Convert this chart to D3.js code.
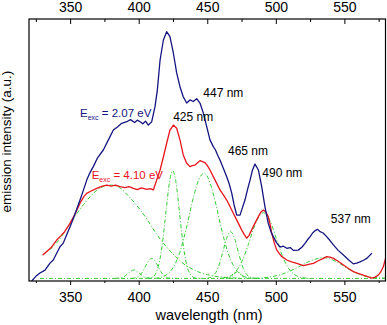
<!DOCTYPE html>
<html>
<head>
<meta charset="utf-8">
<script src="https://cdn.jsdelivr.net/npm/d3@7"></script>
<style>
  body { margin: 0; background: #fff; }
  svg { display: block; }
</style>
</head>
<body>
<div id="chart"></div>
<script>
// emission spectra (wavelength in nm, intensity in a.u.)
var blueWl = [322,325,328,331.7,335.3,337.7,340,342.6,345,348,351.1,354,357.2,360,362.1,364.5,366.9,370,374.2,378,381.5,384.5,387.6,391.3,394,397,399,401,403,405,407,409.5,411.9,413.6,415.6,418,420.4,422.8,425.3,427.7,430.1,432.5,435,437.4,439.8,442.3,444.7,447.1,449.6,452,454.4,456,458.1,459.3,461.5,464.2,466,467.9,469.5,471.5,473.9,475.5,477.5,479.5,481.2,483,484.8,487.3,489.7,492.1,494.5,496.5,498.2,500.5,503.1,505.5,508,510.5,512.8,516.4,519,521.3,523,525,527,528.6,530.5,532.3,534.5,537.1,539.5,542,545.5,549.3,553,556.5,559,561.4,564,566.3,568,570];
var blueVal = [-1,0.8,2.1,3.2,5.9,7.1,9.5,12.2,13.6,17.5,21.4,25.5,30.2,34.5,37.9,40.8,43.1,46.5,49.5,53.5,57.2,58.4,59.8,60.4,61.2,60.1,61,60.4,59.6,60.6,59.1,60.4,66.2,72.6,84.2,91.9,95.1,93.2,86.8,79.2,73.9,70,67.6,68.8,68.2,69.3,67.6,63.8,58.5,53.4,50.8,49.5,46.9,45.6,42.8,39.2,36.5,32.8,28.5,24.4,24.4,27,30.2,34.5,37.9,41.8,44.1,41.8,35.4,27.6,21.2,18,16.1,13.8,12.1,12.4,11.6,11.9,10.8,10.9,12,13.5,14.8,16.1,17.6,18.4,18.9,18,17.5,16.1,14.6,12.9,10.8,9,7.2,5.6,5.9,6.4,7,7.7,8.6,9.7];

var redWl = [330,333,336,340.2,343,346,349.9,353,357.2,360,362.1,365,369.4,373,376.7,380,383,386.4,390,393,396.1,399,402,405.9,408.5,410.7,413.1,415.6,418,420.4,422.8,425.3,427.7,430.1,432.5,435,437.4,439,441.1,443,444.7,446.5,448.4,450,452,455.7,459.3,462,464.2,466.5,469,472,475.1,477,478.8,480.5,482.4,485,487.3,489,490.9,492.7,494.5,496,497,499,500.7,504,508,511.5,515.3,520.1,524,527.4,531,534.7,537.1,539.5,542,545.5,549.3,553,556.5,560,563.8,567,570,572.5,574.8,576.5,578.4,580.4,582];
var redVal = [9,10.4,11.8,14.8,16.3,18,21.2,24.2,29,31.5,32.8,33.6,34.7,35.5,36,35.6,36,35.4,35,35.4,34.7,34.2,34.9,34.3,34.6,34.1,37.9,41.8,46.8,52.1,57.2,59.1,57.9,53.4,47.6,44.4,43.1,43.5,43.7,44.6,45.4,45,44.6,43.6,41.8,37.9,34.1,32,30.2,27.8,25.1,22,18.7,16.9,15.5,16.6,18.7,21.5,23.8,25.5,26.4,25.6,23.8,20.5,17.4,13.5,10.9,8.6,7.1,6.4,5.8,4.9,5.4,5.8,6.8,7.7,8.4,8.2,7.7,6.6,5.2,3.8,2.6,1.9,1.3,0.7,0.1,0.5,1.3,2.5,4.5,8.4,13];

// fitted components (green), [wavelength, intensity]
var fit380 = [[330,9],[340,13.6],[350,21.1],[360,28.6],[370,34.2],[379,36],[386,35],[393,31.5],[400,27.2],[405,23.6],[410,19.5],[415,15.6],[420,12.3],[425,9.4],[430,6.8],[435,4.8],[440,3.4],[445,2.2],[450,1.45],[455,0.9],[460,0.55],[468,0.2],[475,0.1]];
var fit397 = [[383,0],[386,0.1],[389,0.57],[392.5,2],[396.5,3.3],[400.5,2],[404,0.57],[407,0.1],[410,0]];
var fit410 = [[395,0],[397,0.1],[400,0.83],[403,2.7],[406,5.7],[409.5,7.7],[413,5.7],[416,2.7],[419,0.83],[422,0.15],[426,0]];
var fit425 = [[405,0],[410,0.5],[414,4],[417,12.3],[420,26.2],[422.5,37.3],[424.8,41.5],[427,37.7],[429.5,26.7],[432,14.7],[435,5.2],[438,1.3],[441,0.2],[446,0]];
var fit447 = [[412,0],[420,1.3],[425,4.1],[430,10.1],[435,19.9],[440,31.4],[444,38.3],[447.5,40.5],[451,38.3],[455,31.4],[460,19.9],[465,10.1],[470,4.1],[475,1.3],[481,0.2],[486,0]];
var fit467 = [[450,0],[455,1.4],[458,4.2],[461,9.5],[464,15.3],[467,18],[470,15.3],[473,9.5],[476,4.2],[479,1.4],[483,0.2],[486,0]];
var fit472 = [[464,0],[466,0.1],[469,1.3],[471,2.4],[472,2.6],[473,2.4],[475,1.3],[478,0.1],[480,0]];
var fit491 = [[460,0],[465,0.5],[470,2.2],[475,6.2],[480,13.1],[485,20.9],[490.9,25.3],[496,21.9],[501,14.4],[506,7.1],[511,2.7],[516,0.8],[522,0.1],[526,0]];
var fit537 = [[485,0],[495,0.5],[505,1.7],[515,4],[525,6.7],[535,8],[545,6.2],[555,3],[565,0.9],[575,0.2],[580,0.1]];
var fitBase = [[328,0],[580,0]];

var topTicks = [350,400,450,500,550];
var minorTicks = [325,375,425,475,525,575];

var peakLabels = [
  {t:"447 nm", wl:447.5, v:70},
  {t:"425 nm", wl:425.5, v:60.5},
  {t:"465 nm", wl:465.5, v:47.5},
  {t:"490 nm", wl:490.5, v:39.2},
  {t:"537 nm", wl:540.5, v:21.5}
];

var W = 387, H = 325;
var font = "'Liberation Sans', Arial, sans-serif";

var svg = d3.select("#chart")
  .append("svg")
  .attr("width", W)
  .attr("height", H);

var x = d3.scaleLinear().domain([320, 580]).range([29, 385.5]);
var y = d3.scaleLinear().domain([-1, 100]).range([281, 19]);

svg.append("defs").append("clipPath")
  .attr("id", "plotclip")
  .append("rect")
  .attr("x", 29).attr("y", 19)
  .attr("width", 356.5).attr("height", 262);

var plot = svg.append("g").attr("clip-path", "url(#plotclip)");

var line = d3.line()
  .x(function(d) { return x(d[0]); })
  .y(function(d) { return y(d[1]); });

var smooth = d3.line()
  .x(function(d) { return x(d[0]); })
  .y(function(d) { return y(d[1]); })
  .curve(d3.curveMonotoneX);

// green fits
var fits = [fitBase, fit380, fit397, fit410, fit425, fit447, fit467, fit472, fit491, fit537];
for (var i = 0; i < fits.length; i++) {
  plot.append("path")
    .attr("d", smooth(fits[i]))
    .attr("fill", "none")
    .attr("stroke", "#33cc33")
    .attr("stroke-width", 1)
    .attr("stroke-dasharray", "4,2,1,2");
}

var blue = d3.zip(blueWl, blueVal);
var red = d3.zip(redWl, redVal);

plot.append("path")
  .attr("d", line(red))
  .attr("fill", "none")
  .attr("stroke", "#e8141c")
  .attr("stroke-width", 1.3)
  .attr("stroke-linejoin", "round");

plot.append("path")
  .attr("d", line(blue))
  .attr("fill", "none")
  .attr("stroke", "#141482")
  .attr("stroke-width", 1.3)
  .attr("stroke-linejoin", "round");

// axes
var bottomAxis = d3.axisBottom(x).tickValues(topTicks).tickSize(4).tickPadding(7);
var bottomMinor = d3.axisBottom(x).tickValues(minorTicks).tickSize(2).tickFormat("");
var topAxis = d3.axisTop(x).tickValues(topTicks).tickSize(-5).tickPadding(7);
var topMinor = d3.axisTop(x).tickValues(minorTicks).tickSize(-3).tickFormat("");

var axes = [
  [bottomAxis, 281], [bottomMinor, 281], [topAxis, 19], [topMinor, 19]
];
axes.forEach(function(a) {
  var g = svg.append("g")
    .attr("transform", "translate(0," + a[1] + ")")
    .call(a[0]);
  g.select(".domain").remove();
  g.selectAll("line").attr("stroke", "#000").attr("stroke-width", 1);
  g.selectAll("text")
    .attr("font-family", font)
    .attr("font-size", "14px")
    .attr("fill", "#000");
});

svg.append("rect")
  .attr("x", 29).attr("y", 19)
  .attr("width", 356.5).attr("height", 262)
  .attr("fill", "none")
  .attr("stroke", "#000")
  .attr("stroke-width", 1.2);

svg.append("text")
  .attr("x", 209)
  .attr("y", 320)
  .attr("text-anchor", "middle")
  .attr("font-family", font)
  .attr("font-size", "14.5px")
  .text("wavelength (nm)");

svg.append("text")
  .attr("transform", "translate(11,141.7) rotate(-90)")
  .attr("text-anchor", "middle")
  .attr("font-family", font)
  .attr("font-size", "13.5px")
  .text("emission intensity (a.u.)");

// excitation labels
function excLabel(xp, yp, col, val) {
  var t = svg.append("text")
    .attr("x", xp).attr("y", yp)
    .attr("font-family", font)
    .attr("font-size", "11.5px")
    .attr("fill", col);
  t.append("tspan").text("E");
  t.append("tspan").attr("font-size", "7px").attr("dy", 3).text("exc");
  t.append("tspan").attr("dy", -3).text(" = " + val + " eV");
}
excLabel(80, 116.5, "#141482", "2.07");
excLabel(91.7, 179.3, "#e8141c", "4.10");

peakLabels.forEach(function(p) {
  svg.append("text")
    .attr("x", x(p.wl) - 0.5)
    .attr("y", y(p.v))
    .attr("font-family", font)
    .attr("font-size", "12px")
    .attr("fill", "#000")
    .text(p.t);
});
</script>
</body>
</html>
